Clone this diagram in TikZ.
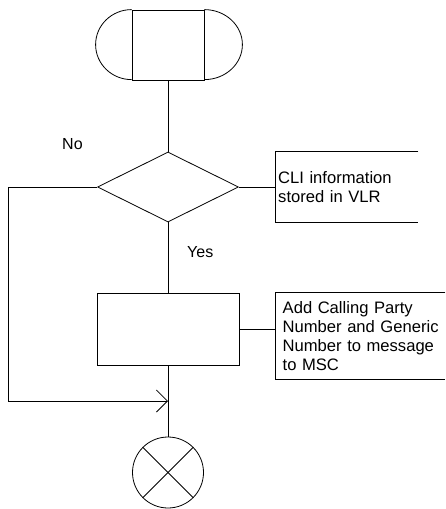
\documentclass[tikz,border=0pt]{standalone}
\usepackage{fontspec}
\setmainfont{Liberation Sans}
\usetikzlibrary{shapes.geometric,arrows.meta}
\begin{document}
\begin{tikzpicture}[x=1pt,y=-1pt,
  line/.style={draw=black,line width=0.8pt},
  box/.style={line,rectangle,inner sep=0pt,minimum width=142pt,minimum height=72pt},
  decision/.style={line,diamond,inner sep=0pt,minimum width=141pt,minimum height=70pt},
  stopper/.style={line,circle,inner sep=0pt,minimum size=71pt},
  comment/.style={rectangle,inner sep=0pt,anchor=west,align=left,font=\fontsize{16.6}{19}\selectfont},
  lbl/.style={inner sep=0pt,anchor=base west,font=\fontsize{16}{19}\selectfont},
  every node/.style={font=\fontsize{16}{19}\selectfont}]
\useasboundingbox (0,0) rectangle (445,509);
% start terminal
\node[line,rectangle,inner sep=0pt,minimum width=72pt,minimum height=70pt] (start) at (168,45) {};
\draw[line] (start.north west) arc[start angle=90,end angle=270,x radius=36pt,y radius=35pt];
\draw[line] (start.north east) arc[start angle=90,end angle=-90,x radius=38pt,y radius=35pt];
% decision
\node[decision] (dec) at (168,187) {};
% process
\node[box] (proc) at (168,329) {};
% stop
\node[stopper] (stop) at (168,472.5) {};
\draw[line] (stop.north west) -- (stop.south east);
\draw[line] (stop.north east) -- (stop.south west);
% comments
\node[comment,minimum height=70pt,minimum width=143pt,text width=140pt] (c1) at (275,187)
  {\hspace*{1.5pt}CLI information\\\hspace*{1.5pt}stored in VLR};
\draw[line] (c1.north east) -- (c1.north west) -- (c1.south west) -- (c1.south east);
\node[comment,minimum height=86pt,minimum width=170pt,text width=165pt] (c2) at (275,336)
  {\hspace*{5pt}Add Calling Party\\\hspace*{5pt}Number and Generic\\\hspace*{5pt}Number to message\\\hspace*{5pt}to MSC};
\draw[line] (c2.north east) -- (c2.north west) -- (c2.south west) -- (c2.south east);
% labels
\node[lbl] (no) at (62,149) {No};
\node[lbl] (yes) at (187,257) {Yes};
% connectors
\coordinate (merge) at (168,401);
\coordinate (lc) at (8,187);
\draw[line] (start.south) -- (dec.north);
\draw[line] (dec.south) -- (proc.north);
\draw[line] (proc.south) -- (stop.north);
\draw[line] (dec.east) -- (c1.west);
\draw[line] (proc.east) -- (c2.west |- proc.east);
\draw[line,-{Straight Barb[length=11pt,width=22pt,line width=0.8pt]}] (dec.west) -- (lc) |- (merge);
\end{tikzpicture}
\end{document}
